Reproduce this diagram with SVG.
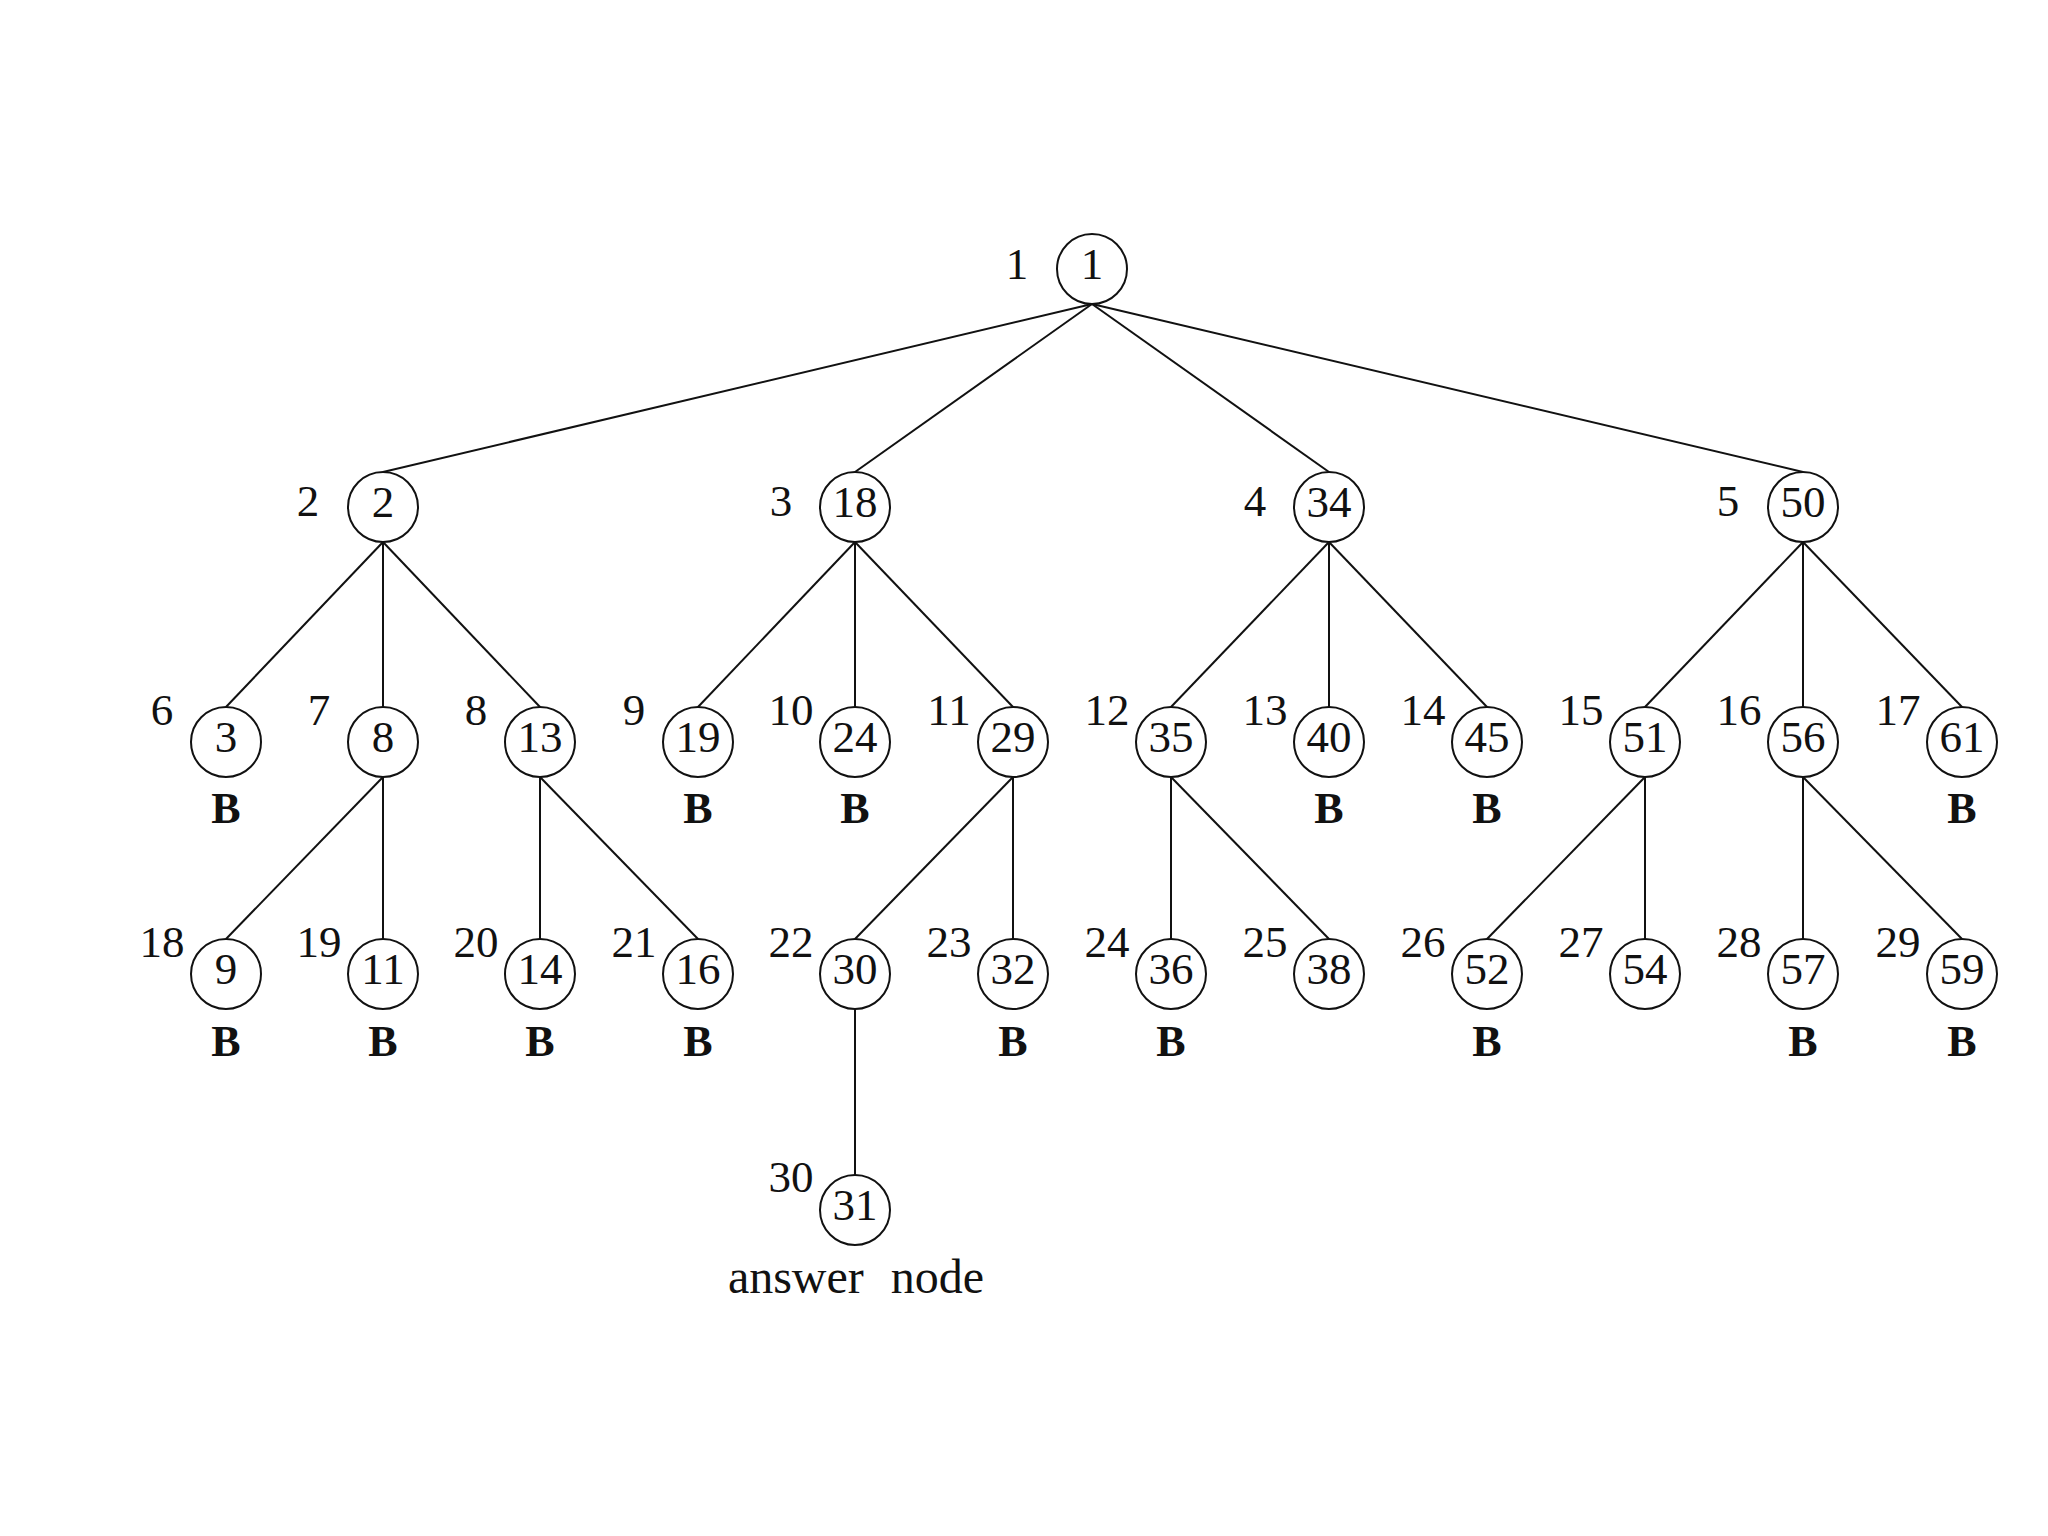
<svg xmlns="http://www.w3.org/2000/svg" width="2048" height="1536" viewBox="0 0 2048 1536">
<style>
.n circle{fill:#fff;stroke:#111;stroke-width:2}
.v{font-family:"Liberation Serif",serif;font-size:45px;fill:#111;text-anchor:middle}
.l{font-family:"Liberation Serif",serif;font-size:45px;fill:#111;text-anchor:middle}
.b{font-family:"Liberation Serif",serif;font-size:44px;font-weight:bold;fill:#111;text-anchor:middle}
#edges line{stroke:#111;stroke-width:2}
</style>
<rect width="2048" height="1536" fill="#fff"/>
<g id="edges">
<line x1="1092" y1="304" x2="383" y2="472"/>
<line x1="1092" y1="304" x2="855" y2="472"/>
<line x1="1092" y1="304" x2="1329" y2="472"/>
<line x1="1092" y1="304" x2="1803" y2="472"/>
<line x1="383" y1="542" x2="226" y2="707"/>
<line x1="383" y1="542" x2="383" y2="707"/>
<line x1="383" y1="542" x2="540" y2="707"/>
<line x1="855" y1="542" x2="698" y2="707"/>
<line x1="855" y1="542" x2="855" y2="707"/>
<line x1="855" y1="542" x2="1013" y2="707"/>
<line x1="1329" y1="542" x2="1171" y2="707"/>
<line x1="1329" y1="542" x2="1329" y2="707"/>
<line x1="1329" y1="542" x2="1487" y2="707"/>
<line x1="1803" y1="542" x2="1645" y2="707"/>
<line x1="1803" y1="542" x2="1803" y2="707"/>
<line x1="1803" y1="542" x2="1962" y2="707"/>
<line x1="383" y1="777" x2="226" y2="939"/>
<line x1="383" y1="777" x2="383" y2="939"/>
<line x1="540" y1="777" x2="540" y2="939"/>
<line x1="540" y1="777" x2="698" y2="939"/>
<line x1="1013" y1="777" x2="855" y2="939"/>
<line x1="1013" y1="777" x2="1013" y2="939"/>
<line x1="1171" y1="777" x2="1171" y2="939"/>
<line x1="1171" y1="777" x2="1329" y2="939"/>
<line x1="1645" y1="777" x2="1487" y2="939"/>
<line x1="1645" y1="777" x2="1645" y2="939"/>
<line x1="1803" y1="777" x2="1803" y2="939"/>
<line x1="1803" y1="777" x2="1962" y2="939"/>
<line x1="855" y1="1009" x2="855" y2="1175"/>
</g>
<g id="n1" class="n"><circle cx="1092" cy="269" r="35"/><text class="v" x="1092" y="279">1</text><text class="l" x="1017" y="279">1</text></g>
<g id="n2" class="n"><circle cx="383" cy="507" r="35"/><text class="v" x="383" y="517">2</text><text class="l" x="308" y="516">2</text></g>
<g id="n18" class="n"><circle cx="855" cy="507" r="35"/><text class="v" x="855" y="517">18</text><text class="l" x="781" y="516">3</text></g>
<g id="n34" class="n"><circle cx="1329" cy="507" r="35"/><text class="v" x="1329" y="517">34</text><text class="l" x="1255" y="516">4</text></g>
<g id="n50" class="n"><circle cx="1803" cy="507" r="35"/><text class="v" x="1803" y="517">50</text><text class="l" x="1728" y="516">5</text></g>
<g id="n3" class="n"><circle cx="226" cy="742" r="35"/><text class="v" x="226" y="752">3</text><text class="l" x="162" y="725">6</text><text class="b" x="226" y="823">B</text></g>
<g id="n8" class="n"><circle cx="383" cy="742" r="35"/><text class="v" x="383" y="752">8</text><text class="l" x="319" y="725">7</text></g>
<g id="n13" class="n"><circle cx="540" cy="742" r="35"/><text class="v" x="540" y="752">13</text><text class="l" x="476" y="725">8</text></g>
<g id="n19" class="n"><circle cx="698" cy="742" r="35"/><text class="v" x="698" y="752">19</text><text class="l" x="634" y="725">9</text><text class="b" x="698" y="823">B</text></g>
<g id="n24" class="n"><circle cx="855" cy="742" r="35"/><text class="v" x="855" y="752">24</text><text class="l" x="791" y="725">10</text><text class="b" x="855" y="823">B</text></g>
<g id="n29" class="n"><circle cx="1013" cy="742" r="35"/><text class="v" x="1013" y="752">29</text><text class="l" x="949" y="725">11</text></g>
<g id="n35" class="n"><circle cx="1171" cy="742" r="35"/><text class="v" x="1171" y="752">35</text><text class="l" x="1107" y="725">12</text></g>
<g id="n40" class="n"><circle cx="1329" cy="742" r="35"/><text class="v" x="1329" y="752">40</text><text class="l" x="1265" y="725">13</text><text class="b" x="1329" y="823">B</text></g>
<g id="n45" class="n"><circle cx="1487" cy="742" r="35"/><text class="v" x="1487" y="752">45</text><text class="l" x="1423" y="725">14</text><text class="b" x="1487" y="823">B</text></g>
<g id="n51" class="n"><circle cx="1645" cy="742" r="35"/><text class="v" x="1645" y="752">51</text><text class="l" x="1581" y="725">15</text></g>
<g id="n56" class="n"><circle cx="1803" cy="742" r="35"/><text class="v" x="1803" y="752">56</text><text class="l" x="1739" y="725">16</text></g>
<g id="n61" class="n"><circle cx="1962" cy="742" r="35"/><text class="v" x="1962" y="752">61</text><text class="l" x="1898" y="725">17</text><text class="b" x="1962" y="823">B</text></g>
<g id="n9" class="n"><circle cx="226" cy="974" r="35"/><text class="v" x="226" y="984">9</text><text class="l" x="162" y="957">18</text><text class="b" x="226" y="1056">B</text></g>
<g id="n11" class="n"><circle cx="383" cy="974" r="35"/><text class="v" x="383" y="984">11</text><text class="l" x="319" y="957">19</text><text class="b" x="383" y="1056">B</text></g>
<g id="n14" class="n"><circle cx="540" cy="974" r="35"/><text class="v" x="540" y="984">14</text><text class="l" x="476" y="957">20</text><text class="b" x="540" y="1056">B</text></g>
<g id="n16" class="n"><circle cx="698" cy="974" r="35"/><text class="v" x="698" y="984">16</text><text class="l" x="634" y="957">21</text><text class="b" x="698" y="1056">B</text></g>
<g id="n30" class="n"><circle cx="855" cy="974" r="35"/><text class="v" x="855" y="984">30</text><text class="l" x="791" y="957">22</text></g>
<g id="n32" class="n"><circle cx="1013" cy="974" r="35"/><text class="v" x="1013" y="984">32</text><text class="l" x="949" y="957">23</text><text class="b" x="1013" y="1056">B</text></g>
<g id="n36" class="n"><circle cx="1171" cy="974" r="35"/><text class="v" x="1171" y="984">36</text><text class="l" x="1107" y="957">24</text><text class="b" x="1171" y="1056">B</text></g>
<g id="n38" class="n"><circle cx="1329" cy="974" r="35"/><text class="v" x="1329" y="984">38</text><text class="l" x="1265" y="957">25</text></g>
<g id="n52" class="n"><circle cx="1487" cy="974" r="35"/><text class="v" x="1487" y="984">52</text><text class="l" x="1423" y="957">26</text><text class="b" x="1487" y="1056">B</text></g>
<g id="n54" class="n"><circle cx="1645" cy="974" r="35"/><text class="v" x="1645" y="984">54</text><text class="l" x="1581" y="957">27</text></g>
<g id="n57" class="n"><circle cx="1803" cy="974" r="35"/><text class="v" x="1803" y="984">57</text><text class="l" x="1739" y="957">28</text><text class="b" x="1803" y="1056">B</text></g>
<g id="n59" class="n"><circle cx="1962" cy="974" r="35"/><text class="v" x="1962" y="984">59</text><text class="l" x="1898" y="957">29</text><text class="b" x="1962" y="1056">B</text></g>
<g id="n31" class="n"><circle cx="855" cy="1210" r="35"/><text class="v" x="855" y="1220">31</text><text class="l" x="791" y="1192">30</text><text class="l" x="856" y="1293" style="font-size:48px;word-spacing:15px">answer node</text></g>
</svg>
